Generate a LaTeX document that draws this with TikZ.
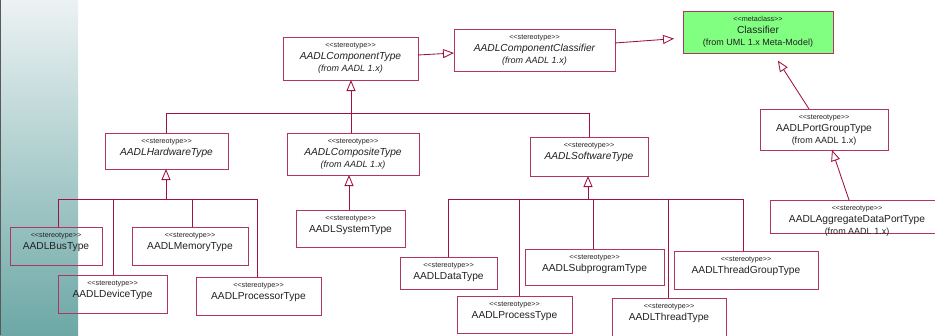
\documentclass[tikz,border=0pt]{standalone}
\usepackage{fontspec}
\setmainfont{Liberation Sans}
\usetikzlibrary{arrows.meta}

\definecolor{boxline}{RGB}{178,52,98}
\definecolor{linkline}{RGB}{160,18,64}
\definecolor{classgreen}{RGB}{128,255,128}
\definecolor{stripTop}{RGB}{236,242,243}
\definecolor{stripMid}{RGB}{192,216,214}
\definecolor{stripBot}{RGB}{108,168,166}
\definecolor{inkgray}{RGB}{34,34,34}

\tikzset{
  ubox/.style={draw=boxline, line width=1pt, inner sep=0pt, outer sep=0pt, rectangle},
  stereo/.style={anchor=base, inner sep=0pt, text=inkgray, font=\fontsize{7.2}{8}\selectfont},
  cname/.style={anchor=base, inner sep=0pt, text=inkgray, font=\fontsize{10.2}{12}\selectfont},
  cfrom/.style={anchor=base, inner sep=0pt, text=inkgray, font=\fontsize{9}{10}\selectfont},
  link/.style={draw=linkline, line width=0.85pt},
  gen/.style={link, -{Triangle[open, length=11pt, width=9pt, line width=0.85pt]}},
  gengap/.style={link, -{Triangle[open, length=11pt, width=9pt, line width=0.85pt, sep=9pt]}},
  classifier extra/.style={fill=classgreen},
}

% angle brackets kept apart so that they are not joined into guillemets
\newcommand\lguil{<\kern0pt<}
\newcommand\rguil{>\kern0pt>}

% #1 node name, #2 left, #3 top, #4 width, #5 height,
% #6 stereotype word, #7 class name, #8 origin line (may be empty), #9 font shape
\newcommand\umlbox[9]{%
  \node[ubox, #1 extra/.try, minimum width=#4pt, minimum height=#5pt, anchor=north west] (#1) at (#2,#3) {};
  \node[stereo] (#1-st) at ([yshift=-10.5pt]#1.north) {\lguil#6\rguil};
  \node[cname, font=\fontsize{10.2}{12}\selectfont#9] (#1-nm) at ([yshift=-22.6pt]#1.north) {#7};
  \if\relax\detokenize{#8}\relax\else
    \node[cfrom, font=\fontsize{9}{10}\selectfont#9] (#1-fr) at ([yshift=-34.2pt]#1.north) {#8};
  \fi
}

\begin{document}
\begin{tikzpicture}[x=1pt, y=-1pt]
  \useasboundingbox (0,0) rectangle (935,335);
  \fill[white] (0,0) rectangle (935,335);

  % shaded side band
  \shade[top color=stripTop, middle color=stripMid, bottom color=stripBot] (0,0) rectangle (78,335);
  \fill[black!65] (0,0) rectangle (1.4,335);

  % classes
  \umlbox{classifier}{683}{11}{150}{42}{metaclass}{Classifier}{(from UML 1.x Meta-Model)}{\upshape}
  \umlbox{comptype}{283}{37}{135}{43}{stereotype}{AADLComponentType}{(from AADL 1.x)}{\itshape}
  \umlbox{compclass}{454}{29}{161}{42}{stereotype}{AADLComponentClassifier}{(from AADL 1.x)}{\itshape}
  \umlbox{portgroup}{760}{109}{128}{41}{stereotype}{AADLPortGroupType}{(from AADL 1.x)}{\upshape}
  \umlbox{aggregate}{770}{200}{174}{33}{stereotype}{AADLAggregateDataPortType}{(from AADL 1.x)}{\upshape}

  \umlbox{hardware}{105}{133}{123}{36}{stereotype}{AADLHardwareType}{}{\itshape}
  \umlbox{composite}{287}{133}{132}{42}{stereotype}{AADLCompositeType}{(from AADL 1.x)}{\itshape}
  \umlbox{software}{530}{137}{118}{39}{stereotype}{AADLSoftwareType}{}{\itshape}

  \umlbox{bus}{10}{227}{92}{38}{stereotype}{AADLBusType}{}{\upshape}
  \umlbox{memory}{132}{227}{116}{38}{stereotype}{AADLMemoryType}{}{\upshape}
  \umlbox{device}{58}{275}{109}{38}{stereotype}{AADLDeviceType}{}{\upshape}
  \umlbox{processor}{196}{277}{125}{38}{stereotype}{AADLProcessorType}{}{\upshape}

  \umlbox{system}{296}{210}{109}{37}{stereotype}{AADLSystemType}{}{\upshape}

  \umlbox{data}{400}{257}{97}{32}{stereotype}{AADLDataType}{}{\upshape}
  \umlbox{process}{457}{296}{115}{37}{stereotype}{AADLProcessType}{}{\upshape}
  \umlbox{subprogram}{525}{249}{139}{36}{stereotype}{AADLSubprogramType}{}{\upshape}
  \umlbox{thread}{612}{298}{114}{40}{stereotype}{AADLThreadType}{}{\upshape}
  \umlbox{threadgroup}{674}{251}{144}{38}{stereotype}{AADLThreadGroupType}{}{\upshape}

  % generalisations towards the metaclass
  \draw[gen] ([yshift=3.5pt]comptype.east) -- ([yshift=-3pt]compclass.west);
  \draw[gengap] ([yshift=7pt]compclass.east) -- ([yshift=-6pt]classifier.west);
  \draw[gengap] ([xshift=49pt]portgroup.north west) -- ([xshift=90pt]classifier.south west);
  \draw[gen] ([xshift=79pt]aggregate.north west) -- ([xshift=72pt]portgroup.south west);

  % component type tree
  \coordinate (ctj) at (351,113);
  \draw[gen] (composite.north -| ctj) -- (ctj |- comptype.south);
  \draw[link] (hardware.north) |- (ctj);
  \draw[link] (software.north) |- (ctj);

  % composite tree
  \draw[gen] (system.north -| 349,0) -- (composite.south -| 349,0);

  % hardware tree
  \coordinate (hwj) at (166,199);
  \draw[gen] (hwj) -- (hwj |- hardware.south);
  \draw[link] (bus.north -| 58,0) |- (hwj);
  \draw[link] (device.north -| 113,0) |- (hwj);
  \draw[link] (memory.north -| 192,0) |- (hwj);
  \draw[link] (processor.north -| 257,0) |- (hwj);

  % software tree
  \coordinate (swj) at (588,199);
  \draw[gen] (swj) -- (swj |- software.south);
  \draw[link] (data.north -| 448,0) |- (swj);
  \draw[link] (process.north -| 519,0) |- (swj);
  \draw[link] (subprogram.north -| 593,0) |- (swj);
  \draw[link] (thread.north -| 668,0) |- (swj);
  \draw[link] (threadgroup.north -| 743,0) |- (swj);
\end{tikzpicture}
\end{document}
